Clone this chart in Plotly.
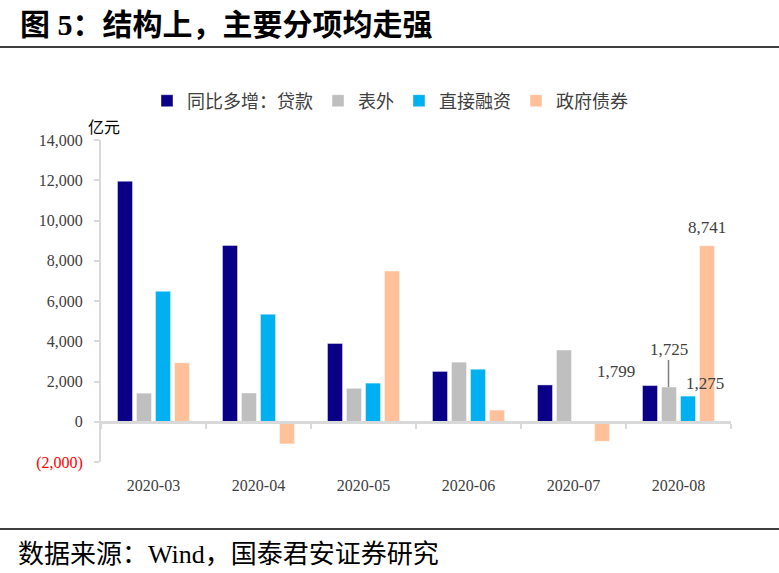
import plotly.graph_objects as go

categories = ["2020-03", "2020-04", "2020-05", "2020-06", "2020-07", "2020-08"]
loans = [11950, 8760, 3890, 2500, 1830, 1799]
off_balance = [1420, 1430, 1660, 2960, 3560, 1725]
direct_fin = [6480, 5345, 1920, 2610, None, 1275]
gov_bonds = [2930, -1100, 7490, 580, -970, 8741]

series_names = ["同比多增：贷款", "表外", "直接融资", "政府债券"]
series_colors = ["#0A0088", "#BFBFBF", "#00B0F0", "#FFC09A"]

y_tickvals = [-2000, 0, 2000, 4000, 6000, 8000, 10000, 12000, 14000]
y_ticktext = ['<span style="color:#FF0000">(2,000)</span>', "0", "2,000", "4,000",
              "6,000", "8,000", "10,000", "12,000", "14,000"]

W, H = 779, 573
L, R, T, B = 101, 731, 140, 462
pw, ph = R - L, B - T


def px(x):
    return (x - L) / pw


def py(y):
    return (B - y) / ph


serif = "Liberation Serif, Noto Sans CJK SC, serif"
cjk = "Liberation Serif, Noto Sans CJK SC"
txt_col = "#404040"

fig = go.Figure()
for name, vals, col in zip(series_names, [loans, off_balance, direct_fin, gov_bonds], series_colors):
    fig.add_trace(go.Bar(x=categories, y=vals, name=name, marker_color=col,
                         marker_line_width=0.6, marker_line_color="rgba(255,255,255,0.7)"))

# invisible trace to carry the zero-line axis
fig.add_trace(go.Scatter(x=categories, y=[None] * len(categories), xaxis="x2",
                         showlegend=False, hoverinfo="skip"))

fig.update_layout(
    width=W, height=H, autosize=False,
    margin=dict(l=L, r=W - R, t=T, b=H - B, pad=0),
    plot_bgcolor="white", paper_bgcolor="white",
    barmode="group", bargap=0.276, bargroupgap=0.21,
    font=dict(family=serif, color=txt_col),
    legend=dict(orientation="h", x=px(390), y=py(101), xanchor="center", yanchor="middle",
                font=dict(family=cjk, size=18, color=txt_col), itemwidth=30,
                traceorder="normal"),
    xaxis=dict(type="category", showline=False, ticks="", showgrid=False, zeroline=False,
               tickfont=dict(family=serif, size=16, color=txt_col), ticklabelstandoff=12),
    xaxis2=dict(type="category", overlaying="x", matches="x", anchor="free",
                position=py(B - (2000 / 16000) * ph), showline=True, linecolor="#D9D9D9",
                linewidth=3, ticks="outside", tickson="boundaries", ticklen=5,
                tickcolor="#D9D9D9", tickwidth=2, showticklabels=False, showgrid=False,
                side="bottom"),
    yaxis=dict(range=[-2000, 14000], tickvals=y_tickvals, ticktext=y_ticktext,
               showline=True, linecolor="#D9D9D9", linewidth=2, ticks="outside",
               ticklen=5, tickcolor="#D9D9D9", tickwidth=2, showgrid=False, zeroline=False,
               tickfont=dict(family=serif, size=16, color=txt_col), ticklabelstandoff=8),
)

ann = []
# data labels for 2020-08
ann.append(dict(x="2020-08", y=gov_bonds[5], text=f"{gov_bonds[5]:,}", showarrow=False,
                xshift=28, yshift=18, font=dict(size=17, color=txt_col, family=serif)))
ann.append(dict(x="2020-08", y=direct_fin[5], text=f"{direct_fin[5]:,}", showarrow=False,
                xshift=26, yshift=13, font=dict(size=17, color=txt_col, family=serif)))
ann.append(dict(x="2020-08", y=loans[5], text=f"{loans[5]:,}", showarrow=False,
                xshift=-63, yshift=14, font=dict(size=17, color=txt_col, family=serif)))
ann.append(dict(x="2020-08", y=off_balance[5], text=f"{off_balance[5]:,}", showarrow=True,
                arrowhead=0, arrowwidth=1.5, arrowcolor="#808080", standoff=0,
                ax=0, ay=-38, xshift=-10, font=dict(size=17, color=txt_col, family=serif)))
# unit label
ann.append(dict(xref="paper", yref="paper", x=px(104), y=py(127), text="亿元", showarrow=False,
                xanchor="center", yanchor="middle",
                font=dict(size=16, color="#000000", family=cjk)))
# title
ann.append(dict(xref="paper", yref="paper", x=px(18), y=py(25), text="<b>图 5：结构上，主要分项均走强</b>",
                showarrow=False, xanchor="left", yanchor="middle",
                font=dict(size=30, color="#000000", family=cjk)))
# source
ann.append(dict(xref="paper", yref="paper", x=px(16), y=py(554), text="数据来源：Wind，国泰君安证券研究",
                showarrow=False, xanchor="left", yanchor="middle",
                font=dict(size=26, color="#000000", family=cjk)))
fig.update_layout(annotations=ann)

fig.update_layout(shapes=[
    dict(type="line", xref="paper", yref="paper", x0=px(0), x1=px(779), y0=py(47), y1=py(47),
         line=dict(color="#000000", width=1.5)),
    dict(type="line", xref="paper", yref="paper", x0=px(0), x1=px(779), y0=py(529), y1=py(529),
         line=dict(color="#000000", width=1.5)),
])

fig.write_html("out.html", config={"displayModeBar": False},
               post_script="document.body.style.margin='0';")
